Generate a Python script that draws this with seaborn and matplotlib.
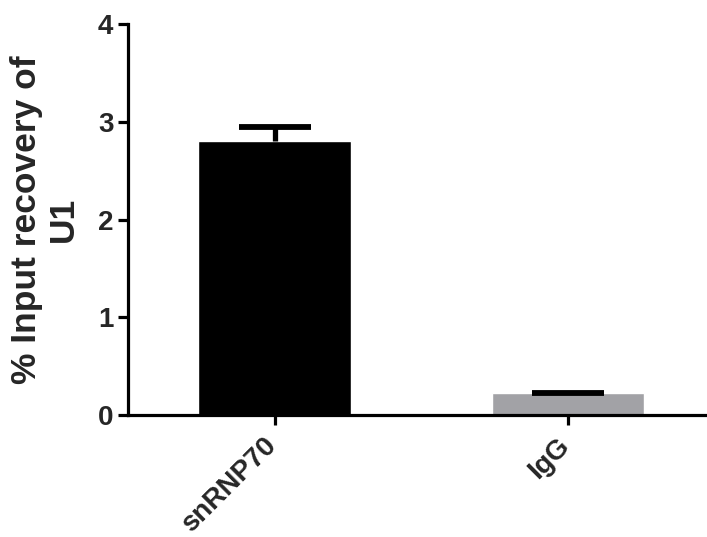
import matplotlib
matplotlib.use("Agg")
import matplotlib.pyplot as plt
import matplotlib.transforms as mtransforms
import seaborn as sns
import pandas as pd

# datos
grupos = ["snRNP70", "IgG"]
medias = [2.80, 0.23]
errores = [0.15, 0.0]
colores = ["#000000", "#a2a2a6"]

df = pd.DataFrame({"Grupo": grupos, "Recuperacion": medias})

sns.set_style("ticks")
plt.rcParams["font.family"] = ["Liberation Sans", "DejaVu Sans"]

fig = plt.figure(figsize=(7.07, 5.37), dpi=100)
ax = fig.add_axes([128 / 707, 122 / 537, 1 - 128 / 707, (415 - 24) / 537])

sns.barplot(data=df, x="Grupo", y="Recuperacion", hue="Grupo", palette=colores,
            width=0.52, errorbar=None, legend=False, ax=ax, saturation=1)

# barras de error solo hacia arriba
_, caps, _ = ax.errorbar(range(len(grupos)), medias, yerr=[[0] * len(errores), errores],
                         fmt="none", ecolor="black", elinewidth=3.8, capsize=26,
                         capthick=4.2, zorder=5)
caps[0].set_visible(False)  # sin tapa inferior

ax.set_ylim(0, 4)
ax.set_xlim(-0.5, 1.475)
ax.set_yticks([0, 1, 2, 3, 4])
ax.set_xlabel("")
ax.set_ylabel("% Input recovery of\nU1", fontsize=25.5, fontweight="bold", linespacing=1.15, labelpad=13)

for lado in ["top", "right"]:
    ax.spines[lado].set_visible(False)
for lado in ["left", "bottom"]:
    ax.spines[lado].set_linewidth(2.3)
    ax.spines[lado].set_color("black")

ax.tick_params(axis="both", width=2.3, length=7.5, color="black", labelsize=20, pad=3)
ax.tick_params(axis="x", pad=5.5)
for t in ax.get_yticklabels():
    t.set_fontweight("bold")
ax.set_xticks(range(len(grupos)))
ax.set_xticklabels(grupos, rotation=45, ha="right", rotation_mode="anchor", fontweight="bold", fontsize=20)

# pequeño desplazamiento a la izquierda de las etiquetas del eje x
desplazar = mtransforms.ScaledTranslation(-11 / 100, 0, fig.dpi_scale_trans)
for t in ax.get_xticklabels():
    t.set_transform(t.get_transform() + desplazar)

fig.savefig("out.png", dpi=100)
